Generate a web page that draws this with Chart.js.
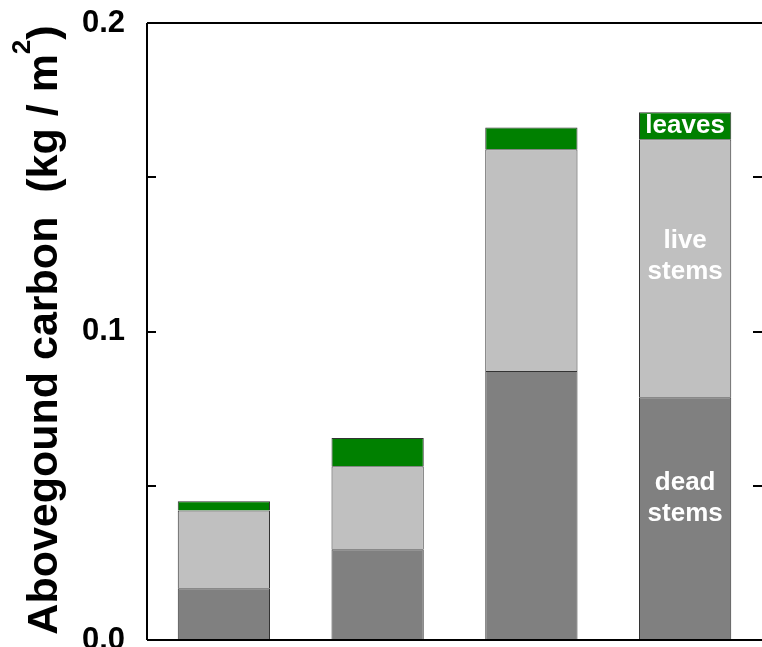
<!DOCTYPE html>
<html>
<head>
<meta charset="utf-8">
<script src="https://cdn.jsdelivr.net/npm/chart.js@4/dist/chart.umd.min.js"></script>
<style>
  html, body { margin: 0; padding: 0; background: #ffffff; }
  #wrap { width: 762px; height: 647px; }
</style>
</head>
<body>
<div id="wrap"><canvas id="chart" width="762" height="647"></canvas></div>
<script>
// Aboveground carbon pools per stand (kg C / m^2)
const categories = ['Stand 1', 'Stand 2', 'Stand 3', 'Stand 4'];
const deadStems  = [0.0168, 0.0294, 0.0872, 0.0787];
const liveStems  = [0.0252, 0.0269, 0.0719, 0.0836];
const leaves     = [0.0030, 0.0092, 0.0070, 0.0088];

// y-axis: ticks every 0.05, labels only on the tenths
const yTickStep   = 0.05;
const yTickLabels = ['0.0', '0.1', '0.2'];

// in-bar labels for the last stand
const segmentLabels = [['dead', 'stems'], ['live', 'stems'], ['leaves']];
const labelledBar = 3;

const FONT = '"Liberation Sans", Arial, Helvetica, sans-serif';

// Frame around the plot plus inward-pointing tick marks
const framePlugin = {
  id: 'frame',
  afterDatasetsDraw(chart) {
    const { ctx, chartArea: a, scales: { y } } = chart;
    ctx.save();
    ctx.strokeStyle = '#000';
    ctx.lineWidth = 2;
    ctx.beginPath();
    ctx.moveTo(a.left, a.top); ctx.lineTo(a.right, a.top);
    ctx.moveTo(a.left, a.top); ctx.lineTo(a.left, a.bottom);
    ctx.moveTo(a.left, a.bottom); ctx.lineTo(a.right, a.bottom);
    y.ticks.forEach(t => {
      const py = Math.round(y.getPixelForValue(t.value));
      ctx.moveTo(a.left, py); ctx.lineTo(a.left + 9, py);
      ctx.moveTo(a.right, py); ctx.lineTo(a.right - 9, py);
    });
    ctx.stroke();
    ctx.restore();
  }
};

// White names written inside the segments of one bar
const segmentLabelPlugin = {
  id: 'segmentLabels',
  afterDatasetsDraw(chart) {
    const { ctx } = chart;
    const shifts = [-20, -12, 0];
    ctx.save();
    ctx.fillStyle = '#ffffff';
    ctx.font = 'bold 26px ' + FONT;
    ctx.textAlign = 'center';
    ctx.textBaseline = 'middle';
    chart.data.datasets.forEach((ds, i) => {
      const el = chart.getDatasetMeta(i).data[labelledBar];
      const lines = segmentLabels[i];
      const lh = 31;
      const cy = (el.y + el.base) / 2 + shifts[i];
      lines.forEach((txt, k) => {
        ctx.fillText(txt, el.x, cy + (k - (lines.length - 1) / 2) * lh);
      });
    });
    ctx.restore();
  }
};

// Rotated y-axis title with a raised exponent
const yTitlePlugin = {
  id: 'yTitle',
  afterDraw(chart) {
    const { ctx } = chart;
    const main = 'Abovegound carbon  (kg / m';
    const sup = '2';
    const close = ')';
    ctx.save();
    ctx.fillStyle = '#000';
    ctx.font = 'bold 43px ' + FONT;
    const w1 = ctx.measureText(main).width;
    const w3 = ctx.measureText(close).width;
    ctx.font = 'bold 26px ' + FONT;
    const w2 = ctx.measureText(sup).width;
    const total = w1 + w2 + w3;
    const cy = 330;
    ctx.translate(57, cy);
    ctx.rotate(-Math.PI / 2);
    ctx.textBaseline = 'alphabetic';
    ctx.textAlign = 'left';
    let x = -total / 2;
    ctx.font = 'bold 43px ' + FONT;
    ctx.fillText(main, x, 0);
    x += w1;
    ctx.font = 'bold 26px ' + FONT;
    ctx.fillText(sup, x, -27);
    x += w2;
    ctx.font = 'bold 43px ' + FONT;
    ctx.fillText(close, x, 0);
    ctx.restore();
  }
};

const segStyle = { borderColor: '#333333', borderWidth: 1, stack: 'carbon' };

new Chart(document.getElementById('chart'), {
  type: 'bar',
  data: {
    labels: categories,
    datasets: [
      { label: 'dead stems', data: deadStems, backgroundColor: '#808080', ...segStyle },
      { label: 'live stems', data: liveStems, backgroundColor: '#c0c0c0', ...segStyle },
      { label: 'leaves',     data: leaves,    backgroundColor: '#008000', ...segStyle }
    ]
  },
  options: {
    responsive: false,
    animation: false,
    events: [],
    layout: { padding: { top: 23, bottom: 7, left: 0, right: 0 } },
    datasets: { bar: { barPercentage: 0.6, categoryPercentage: 1.0 } },
    plugins: { legend: { display: false }, tooltip: { enabled: false } },
    scales: {
      x: {
        stacked: true,
        display: false
      },
      y: {
        stacked: true,
        min: 0,
        max: 0.2,
        grid: { display: false, drawTicks: false },
        border: { display: false },
        ticks: {
          stepSize: yTickStep,
          padding: 22,
          color: '#000',
          font: { family: FONT, size: 31, weight: 'bold' },
          callback(v) {
            const s = Number(v).toFixed(1);
            return Math.abs(v * 10 - Math.round(v * 10)) < 1e-6 && yTickLabels.includes(s) ? s : '';
          }
        },
        afterFit(scale) {
          scale.width = 147;
          scale.paddingTop = 0;
          scale.paddingBottom = 0;
        }
      }
    }
  },
  plugins: [framePlugin, segmentLabelPlugin, yTitlePlugin]
});
</script>
</body>
</html>
